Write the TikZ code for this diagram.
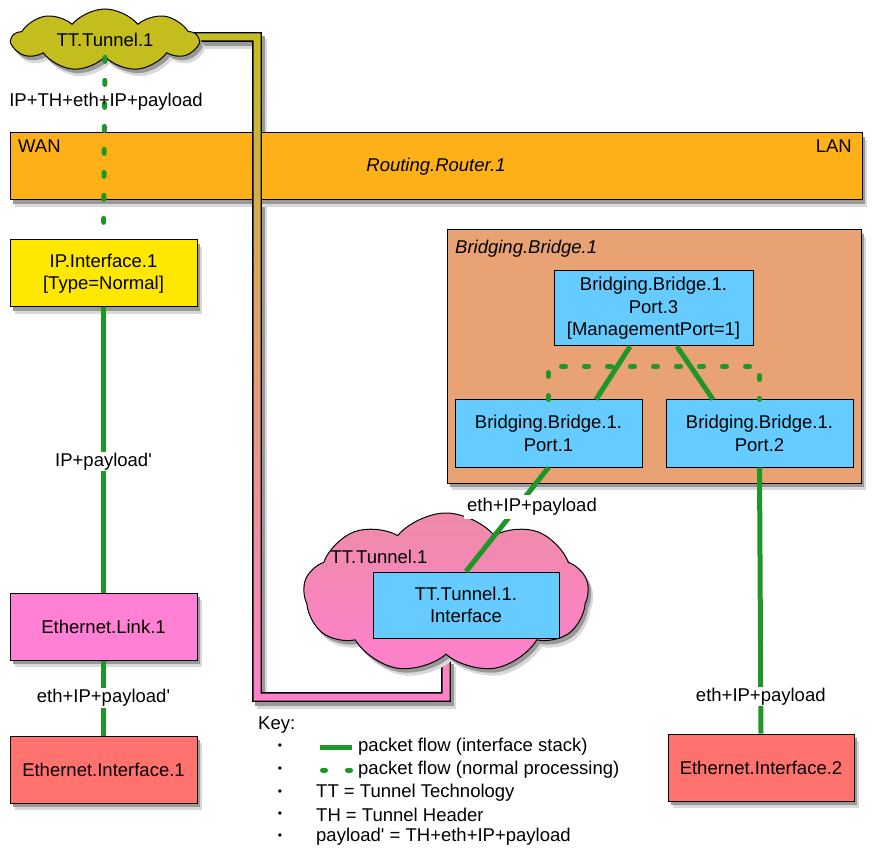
\documentclass[tikz,border=0pt]{standalone}
\usepackage{fontspec}
\setmainfont{Liberation Sans}[Ligatures=TeXOff]
\usetikzlibrary{shapes.symbols,shadows}
\definecolor{routerorange}{RGB}{253,176,24}
\definecolor{ipyellow}{RGB}{255,232,0}
\definecolor{linkpink}{RGB}{255,128,212}
\definecolor{ifred}{RGB}{255,114,110}
\definecolor{bridgepeach}{RGB}{232,162,115}
\definecolor{portblue}{RGB}{102,204,255}
\definecolor{flowgreen}{RGB}{30,150,40}
\definecolor{tunnelolive}{RGB}{196,189,30}
\definecolor{tunnelpinktop}{RGB}{238,140,168}
\definecolor{tunnelpinkbot}{RGB}{255,128,204}

\begin{document}
\begin{tikzpicture}[x=1pt, y=-1pt, font=\fontsize{18.5}{22.5}\selectfont,
    boxshadow/.style={general shadow={shadow xshift=5pt, shadow yshift=-7pt, fill=black!15},
        general shadow={shadow xshift=3pt, shadow yshift=-4pt, fill=black!40}},
    box/.style={draw, line width=1pt, minimum width=187pt, minimum height=67pt, align=center, inner sep=2pt, boxshadow},
    flatbox/.style={draw, line width=1pt, minimum width=187pt, minimum height=67pt, align=center, inner sep=2pt},
    puff/.style={cloud, cloud ignores aspect, draw, line width=1pt, inner sep=0pt, boxshadow},
    flow/.style={draw=flowgreen, line width=5pt},
    flowdashed/.style={flow, line cap=round, dash pattern=on 4pt off 19pt},
    lbl/.style={fill=white, inner sep=1pt}]
    \useasboundingbox (0,0) rectangle (873,858);

    % tunnel pipe shadow
    \draw[black!15, line width=10pt, shift={(5,7)}] (180,37) -- (257,37) -- (257,697) -- (446,697) -- (446,660);
    \draw[black!40, line width=10pt, shift={(3,4)}] (180,37) -- (257,37) -- (257,697) -- (446,697) -- (446,660);

    % router
    \node[box, fill=routerorange, minimum width=852pt] (router) at (436,166.5) {\itshape Routing.Router.1};
    \node[anchor=west, inner sep=0pt] (wan) at (18,146) {WAN};
    \node[anchor=east, inner sep=0pt] (lan) at (852,146) {LAN};

    % tunnel pipe
    \draw[line width=10pt] (180,37) -- (257,37) -- (257,697) -- (446,697) -- (446,660);
    \begin{scope}
        \clip (175,33.5) -- (260.5,33.5) -- (260.5,693.5) -- (442.5,693.5) -- (442.5,660) -- (449.5,660) -- (449.5,700.5) -- (253.5,700.5) -- (253.5,40.5) -- (175,40.5) -- cycle;
        \shade[top color=tunnelolive, bottom color=tunnelpinkbot] (170,28) rectangle (455,706);
    \end{scope}

    % tunnels
    \node[puff, cloud puffs=9, cloud puff arc=100, fill=tunnelolive, minimum width=186pt, minimum height=62pt] (tunnel1) at (105,40) {TT.Tunnel.1};
    \node[puff, cloud puffs=9, cloud puff arc=100, top color=tunnelpinktop, bottom color=tunnelpinkbot, minimum width=285pt, minimum height=160pt] (tunnel2) at (446,593) {};
    \node[inner sep=0pt] (tunnel2lbl) at (379,557) {TT.Tunnel.1};
    \node[flatbox, fill=portblue, minimum width=186pt, minimum height=66pt] (ttif) at (466,605) {TT.Tunnel.1.\\Interface};

    % left stack
    \node[box, fill=ipyellow] (ipif) at (103.5,273.5) {IP.Interface.1\\{}[Type=Normal]};
    \node[box, fill=linkpink] (ethlink) at (103.5,626.5) {Ethernet.Link.1};
    \node[box, fill=ifred] (ethif1) at (103.5,769.5) {Ethernet.Interface.1};

    % bridge
    \node[box, fill=bridgepeach, minimum width=414pt, minimum height=253pt] (bridge) at (654,356.5) {};
    \node[anchor=west, inner sep=0pt] (bridgelbl) at (455,249) {\itshape Bridging.Bridge.1};
    \node[flatbox, fill=portblue, minimum width=199pt, minimum height=75pt] (port3) at (653.5,308.5) {Bridging.Bridge.1.\\Port.3\\{}[ManagementPort=1]};
    \node[flatbox, fill=portblue] (port1) at (548.5,433.5) {Bridging.Bridge.1.\\Port.1};
    \node[flatbox, fill=portblue] (port2) at (759.5,433.5) {Bridging.Bridge.1.\\Port.2};
    \node[box, fill=ifred, minimum width=186pt] (ethif2) at (761,767.5) {Ethernet.Interface.2};

    % packet flows
    \draw[flowdashed] (tunnel1.south) -- (ipif.north);
    \node (wanlbl) at (106,102) {IP+TH+eth+IP+payload};
    \draw[flow] (ipif.south) -- (ethlink.north) node[lbl, pos=0.54] {IP+payload'};
    \draw[flow] (ethlink.south) -- (ethif1.north) node[lbl, midway] {eth+IP+payload'};
    \draw[flow] ([xshift=-23.5pt]port3.south) -- ([xshift=47.5pt]port1.north);
    \draw[flow] ([xshift=23.5pt]port3.south) -- ([xshift=-46.5pt]port2.north);
    \draw[flowdashed] (port1.north) -- ++(0,-33) -| (port2.north);
    \draw[flow] (port1.south) -- (ttif.north);
    \node[lbl, inner sep=3pt] (tunlbl) at (532,507) {eth+IP+payload};
    \draw[flow] (port2.south) -- (ethif2.north) node[lbl, pos=0.86] {eth+IP+payload};

    % key
    \node[anchor=west, inner sep=0pt] (key) at (258,725) {Key:};
    \foreach \y in {747,770,793,815,837} \node[inner sep=0pt] at (280,\y) {\fontsize{12}{12}\selectfont •};
    \draw[flow] (320,747) -- (352,747);
    \draw[flow, line cap=round, dash pattern=on 3pt off 22pt] (322.5,770) -- (350.5,770);
    \node[anchor=west, inner sep=0pt] at (358,747) {packet flow (interface stack)};
    \node[anchor=west, inner sep=0pt] at (358,770) {packet flow (normal processing)};
    \node[anchor=west, inner sep=0pt] at (316,793) {TT = Tunnel Technology};
    \node[anchor=west, inner sep=0pt] at (316,815) {TH = Tunnel Header};
    \node[anchor=west, inner sep=0pt] at (316,837) {payload' = TH+eth+IP+payload};
\end{tikzpicture}
\end{document}
